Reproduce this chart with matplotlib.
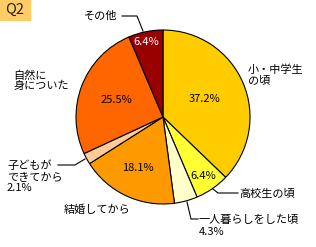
import matplotlib.pyplot as plt

plt.rcParams['font.family'] = ['Noto Sans CJK JP', 'DejaVu Sans']

labels = ['小・中学生の頃', '高校生の頃', '一人暮らしをした頃', '結婚してから',
          '子どもができてから', '自然に身についた', 'その他']
values = [37.2, 6.4, 4.3, 18.1, 2.1, 25.5, 6.4]
colors = ['#FFCC00', '#FFFF33', '#FFFFCC', '#FF9900', '#FFCC99', '#FF6600', '#990000']

W, H = 316, 247
fig = plt.figure(figsize=(W / 100, H / 100), dpi=100)
ax = fig.add_axes([0, 0, 1, 1])


def py(y):
    # pixel row -> data y
    return H - y


cx, cy, r = 163, py(117), 87
ax.pie(values, colors=colors, startangle=90, counterclock=False,
       center=(cx, cy), radius=r, frame=True,
       wedgeprops=dict(edgecolor='black', linewidth=0.8))
ax.set_xlim(0, W)
ax.set_ylim(0, H)
ax.set_aspect('equal')
ax.axis('off')

# Q2 box
ax.add_patch(plt.Rectangle((0, py(20)), 30, 20, color='#FFCC66', zorder=3))
ax.text(15, py(10), 'Q2', ha='center', va='center', fontsize=10.5,
        color='#222222', zorder=4)

fs = 8
# percentages inside slices
ax.text(205, py(99), f'{values[0]}%', ha='center', va='center', fontsize=fs)
ax.text(203, py(176), f'{values[1]}%', ha='center', va='center', fontsize=fs)
ax.text(138, py(168), f'{values[3]}%', ha='center', va='center', fontsize=fs)
ax.text(116, py(100), f'{values[5]}%', ha='center', va='center', fontsize=fs)
ax.text(146, py(42), f'{values[6]}%', ha='center', va='center', fontsize=fs,
        color='white')

# outside labels
ax.text(248, py(75), '小・中学生\nの頃', ha='left', va='center', fontsize=fs,
        linespacing=1.05)
ax.text(239, py(194), labels[1], ha='left', va='center', fontsize=fs)
ax.plot([213, 218, 238], [py(189), py(193), py(193)], color='black', lw=0.8)
ax.text(199, py(220), labels[2], ha='left', va='center', fontsize=fs)
ax.text(212, py(232), f'{values[2]}%', ha='center', va='center', fontsize=fs)
ax.plot([187, 191, 198], [py(202), py(219), py(219)], color='black', lw=0.8)
ax.text(97, py(210), labels[3], ha='center', va='center', fontsize=fs)
ax.text(7, py(177), '子どもが\nできてから\n2.1%', ha='left', va='center',
        fontsize=fs, linespacing=1.1)
ax.plot([58, 75, 85], [py(165), py(165), py(159)], color='black', lw=0.8)
ax.text(13, py(81), '自然に\n身についた', ha='left', va='center', fontsize=fs,
        linespacing=1.05)
ax.text(101, py(16), labels[6], ha='center', va='center', fontsize=fs)
ax.plot([122, 137, 143], [py(16), py(16), py(31)], color='black', lw=0.8)

fig.savefig('out.png', dpi=100)
